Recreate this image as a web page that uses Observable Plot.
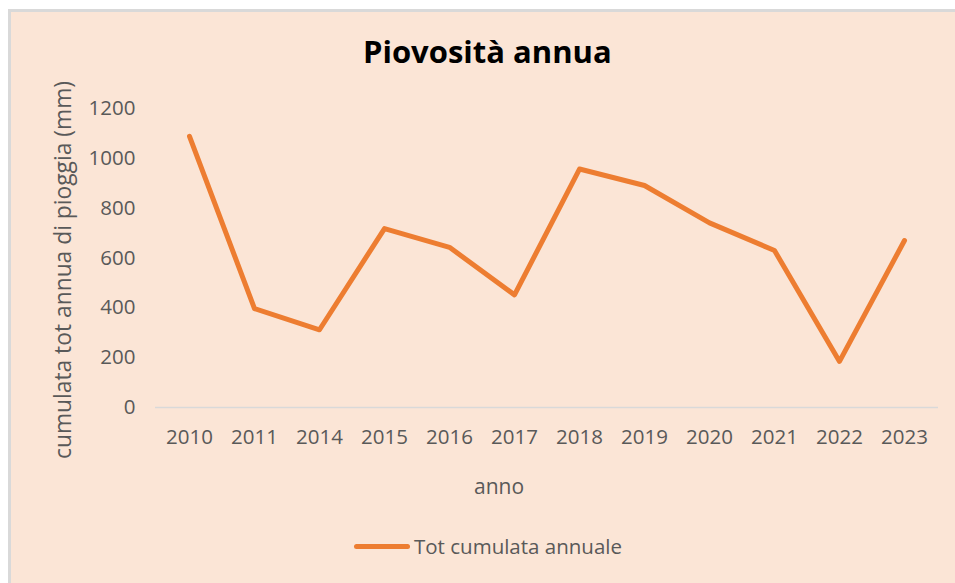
<!DOCTYPE html>
<html>
<head>
<meta charset="utf-8">
<script src="https://cdn.jsdelivr.net/npm/d3@7"></script>
<script src="https://cdn.jsdelivr.net/npm/@observablehq/plot@0.6"></script>
<style>
  html, body { margin: 0; padding: 0; background: #ffffff; }
  #wrap { position: relative; width: 955px; height: 583px; overflow: hidden; background: #ffffff; font-family: "Open Sans", sans-serif; }
  #panel { position: absolute; left: 8px; top: 9px; width: 960px; height: 590px; background: #FBE5D6; border-left: 3px solid #d9d9d9; border-top: 3px solid #d9d9d9; }
  #chart { position: absolute; left: 0; top: 0; }
  #title { position: absolute; left: 363px; top: 30px; white-space: nowrap; font-weight: bold; font-size: 31px; color: #000; }
  #xlabel { position: absolute; left: 474px; top: 472px; font-size: 21px; color: #595959; }
  #ylabel { position: absolute; left: 62px; top: 270px; font-size: 22.8px; color: #595959; white-space: nowrap; transform: translate(-50%, -50%) rotate(-90deg); }
  #legend { position: absolute; top: 532px; left: 354px; display: flex; align-items: center; font-size: 20.5px; color: #595959; }
  #legend .sw { width: 56px; height: 5px; border-radius: 3px; background: #ED7D31; margin-right: 4px; }
</style>
</head>
<body>
<div id="wrap">
  <div id="panel"></div>
  <div id="chart"></div>
  <div id="title">Piovosità annua</div>
  <div id="ylabel">cumulata tot annua di pioggia (mm)</div>
  <div id="xlabel">anno</div>
  <div id="legend"><div class="sw"></div><span>Tot cumulata annuale</span></div>
</div>
<script>
const years = ["2010","2011","2014","2015","2016","2017","2018","2019","2020","2021","2022","2023"];
const rainfall = [1088, 397, 312, 718, 643, 452, 957, 891, 741, 630, 185, 670];
const yTicks = [0, 200, 400, 600, 800, 1000, 1200];
const seriesName = "Tot cumulata annuale";

const data = years.map((y, i) => ({anno: y, valore: rainfall[i]}));

const plot = Plot.plot({
  width: 955,
  height: 583,
  marginLeft: 155,
  marginRight: 17,
  marginTop: 108,
  marginBottom: 176,
  style: {background: "transparent", fontFamily: "Open Sans, sans-serif", fontSize: "20.5px", color: "#595959"},
  x: {type: "point", domain: years, padding: 0.5},
  y: {domain: [0, 1200]},
  marks: [
    Plot.ruleY([0], {stroke: "#d9d9d9", strokeWidth: 1.5}),
    Plot.axisY({ticks: yTicks, tickFormat: d => String(d), tickSize: 0, tickPadding: 20, fill: "#595959", label: null}),
    Plot.axisX({tickSize: 0, tickPadding: 22, fill: "#595959", label: null}),
    Plot.line(data, {x: "anno", y: "valore", stroke: "#ED7D31", strokeWidth: 5, strokeLinejoin: "round", strokeLinecap: "round"})
  ]
});
document.getElementById("chart").appendChild(plot);
</script>
</body>
</html>
